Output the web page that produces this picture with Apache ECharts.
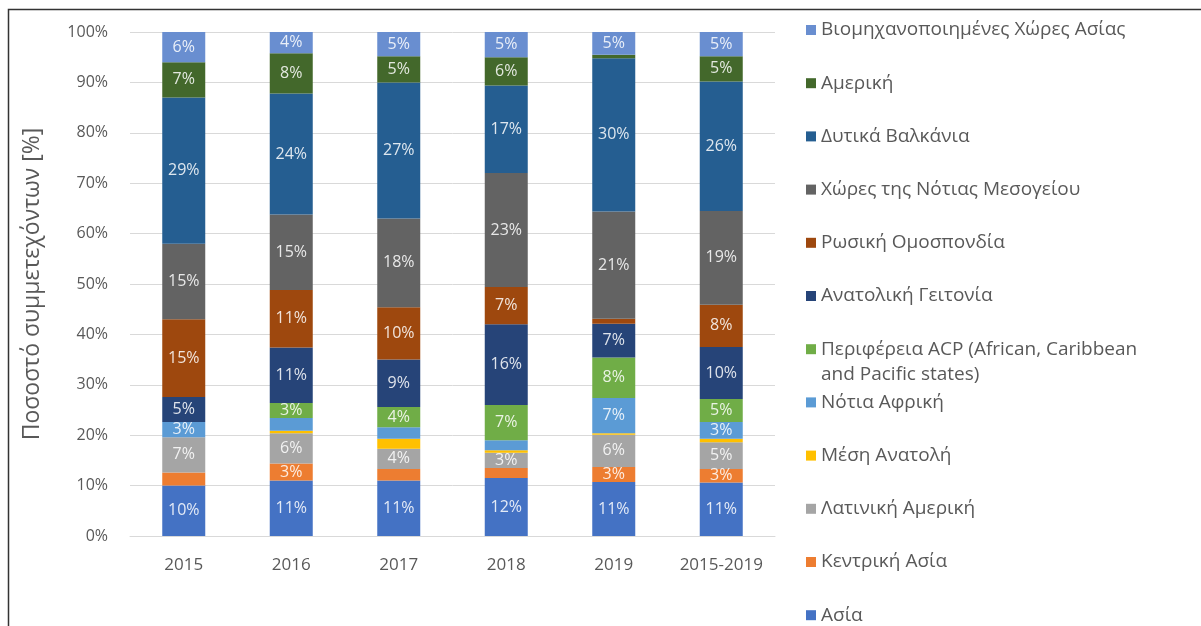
<!DOCTYPE html>
<html>
<head>
<meta charset="utf-8">
<script src="https://cdn.jsdelivr.net/npm/echarts@6/dist/echarts.min.js"></script>
<style>
    html, body {margin: 0; padding: 0; background: #fff;}
    #chart {width: 1201px; height: 626px;}
</style>
</head>
<body>
<div id="chart"></div>
<script>
    // κατηγορίες (έτη)
    var years = ['2015', '2016', '2017', '2018', '2019', '2015-2019'];

    // ποσοστά ανά περιοχή, από κάτω προς τα πάνω
    var asia = [10, 11, 11, 11.5, 10.7, 10.6];
    var centralAsia = [2.6, 3.4, 2.3, 2, 3, 2.7];
    var latinAmerica = [7, 6, 4, 3, 6.4, 5.3];
    var middleEast = [0, 0.5, 2, 0.5, 0.3, 0.7];
    var southAfrica = [3, 2.5, 2.3, 2, 7, 3.3];
    var acp = [0, 3, 4, 7, 8, 4.6];
    var eastNeighbourhood = [5, 11, 9.4, 16, 6.7, 10.3];
    var russia = [15.4, 11.4, 10.4, 7.4, 1, 8.4];
    var southMed = [15, 15, 17.6, 22.6, 21.3, 18.6];
    var westernBalkans = [29, 24, 27, 17.4, 30.4, 25.7];
    var america = [7, 8, 5.2, 5.6, 0.7, 5];
    var industrialAsia = [6, 4.2, 4.8, 5, 4.5, 4.8];

    var yTicks = [0, 10, 20, 30, 40, 50, 60, 70, 80, 90, 100];

    var acpName = 'Περιφέρεια ACP (African, Caribbean and Pacific states)';

    var regions = [
        {name: 'Ασία', data: asia, color: '#4472C4'},
        {name: 'Κεντρική Ασία', data: centralAsia, color: '#ED7D31'},
        {name: 'Λατινική Αμερική', data: latinAmerica, color: '#A5A5A5'},
        {name: 'Μέση Ανατολή', data: middleEast, color: '#FFC000'},
        {name: 'Νότια Αφρική', data: southAfrica, color: '#5B9BD5'},
        {name: acpName, data: acp, color: '#70AD47'},
        {name: 'Ανατολική Γειτονία', data: eastNeighbourhood, color: '#264478'},
        {name: 'Ρωσική Ομοσπονδία', data: russia, color: '#9E480E'},
        {name: 'Χώρες της Νότιας Μεσογείου', data: southMed, color: '#636363'},
        {name: 'Δυτικά Βαλκάνια', data: westernBalkans, color: '#255E91'},
        {name: 'Αμερική', data: america, color: '#43682B'},
        {name: 'Βιομηχανοποιημένες Χώρες Ασίας', data: industrialAsia, color: '#698ED0'}
    ];

    var font = '"Open Sans", "Noto Sans", sans-serif';
    var textColor = '#595959';

    var series = regions.map(function (r) {
        return {
            name: r.name,
            type: 'bar',
            stack: 'total',
            barWidth: 43,
            data: r.data,
            itemStyle: {color: r.color},
            label: {
                show: true,
                position: 'inside',
                color: 'rgba(255,255,255,0.85)',
                fontFamily: font,
                fontSize: 16,
                formatter: function (p) {
                    return p.value >= 2.7 ? Math.round(p.value) + '%' : '';
                }
            }
        };
    });

    var legendNames = regions.map(function (r) { return r.name; }).reverse();

    var option = {
        animation: false,
        backgroundColor: '#fff',
        textStyle: {fontFamily: font},
        grid: {left: 130, right: 426, top: 32, bottom: 90},
        legend: {
            orient: 'vertical',
            left: 806,
            top: 20,
            padding: 0,
            height: 606,
            itemWidth: 10,
            itemHeight: 10,
            itemGap: 33.2,
            icon: 'rect',
            data: legendNames,
            textStyle: {color: textColor, fontSize: 19, lineHeight: 20, fontFamily: font},
            formatter: function (name) {
                return name === acpName ? 'Περιφέρεια ACP (African, Caribbean' : name;
            }
        },
        xAxis: {
            type: 'category',
            data: years,
            axisLine: {lineStyle: {color: '#d9d9d9'}},
            axisTick: {show: false},
            axisLabel: {color: textColor, fontSize: 17, margin: 21, interval: 0}
        },
        yAxis: {
            type: 'value',
            min: yTicks[0],
            max: yTicks[yTicks.length - 1],
            interval: 10,
            name: 'Ποσοστό συμμετεχόντων [%]',
            nameLocation: 'middle',
            nameGap: 86,
            nameTextStyle: {color: textColor, fontSize: 23},
            axisLabel: {color: textColor, fontSize: 16, margin: 22, formatter: '{value}%'},
            splitLine: {lineStyle: {color: '#d9d9d9'}}
        },
        graphic: [
            {
                type: 'rect',
                shape: {x: 8.5, y: 9.5, width: 1400, height: 800},
                style: {fill: 'none', stroke: '#333', lineWidth: 1.5},
                silent: true
            },
            {
                type: 'text',
                left: 821,
                top: 365,
                style: {text: 'and Pacific states)', fill: textColor, font: '19px ' + font}
            }
        ],
        series: series
    };

    var chart = echarts.init(document.getElementById('chart'));
    chart.setOption(option);
</script>
</body>
</html>
